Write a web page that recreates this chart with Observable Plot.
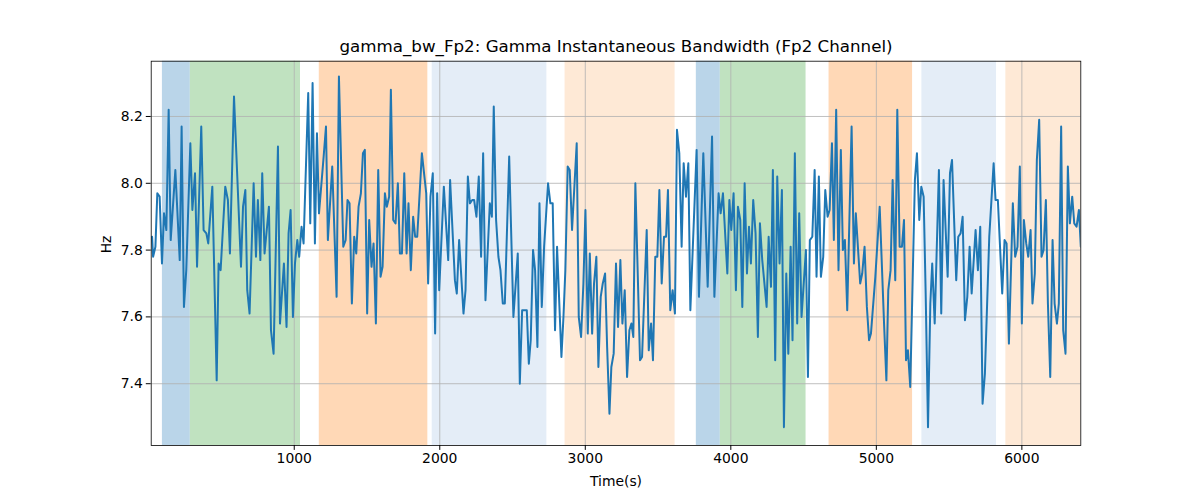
<!DOCTYPE html>
<html>
<head>
<meta charset="utf-8">
<script src="https://cdn.jsdelivr.net/npm/d3@7"></script>
<script src="https://cdn.jsdelivr.net/npm/@observablehq/plot@0.6"></script>
<style>
  html, body { margin: 0; padding: 0; background: white; }
</style>
</head>
<body>
<div id="chart"></div>
<script>
const titleText = "gamma_bw_Fp2: Gamma Instantaneous Bandwidth (Fp2 Channel)";
const xLabel = "Time(s)";
const yLabel = "Hz";
const xTicks = [1000, 2000, 3000, 4000, 5000, 6000];
const yTicks = [7.4, 7.6, 7.8, 8.0, 8.2];
const xDomain = [17, 6405];
const yDomain = [7.215, 8.3655];

const spanStart = [94, 286, 1172, 1948, 2861, 3763, 3928, 4675, 5313, 5890];
const spanEnd   = [286, 1043, 1918, 2736, 3617, 3928, 4517, 5249, 5826, 6405];
const spanKind  = ["A", "B", "C", "D", "E", "A", "B", "C", "D", "E"];
const kindOrder = ["A", "B", "C", "D", "E"];
const kindColors = ["#bad5e9", "#c0e2c0", "#ffd8b6", "#e4edf7", "#fee9d6"];

const times = [
23,30,46,59,75,91,105,121,137,151,183,213,226,242,258,286,300,318,332,361,377,396,409,437,467,480,494,526,544,558,586,634,648,664,677,693,721,737,750,767,780,796,
826,840,858,888,902,929,947,961,975,991,1005,1021,1034,1050,1064,1096,1110,1126,1142,1156,1170,1202,1218,1231,1261,1291,1307,1337,1353,1366,1380,1396,1412,1426,1442,1458,1472,1485,1501,1515,1531,1545,1561,1577,1593,1607,1623,1636,1652,
1664,1680,1696,1712,1726,1740,1756,1772,1785,1801,1817,1831,1845,1877,1907,1920,1936,1952,1968,1982,1996,2028,2058,2071,2104,2117,2133,2163,2177,2193,2207,2223,2236,2252,2268,2284,2298,2314,2344,2358,2371,2387,2403,2417,2433,2447,
2477,2506,2536,2550,2566,2582,2598,2612,2625,2641,2655,2671,2685,2701,2717,2744,2760,2776,2792,2806,2836,2850,2863,2879,2893,2909,2941,2955,2971,2987,3001,3017,3031,3047,3060,3076,3090,3106,3120,3136,3150,3166,3179,3195,3211,3225,3241,3255,3271,
3287,3303,3317,3330,3344,3376,3390,3422,3436,3452,3465,3481,3495,3509,3525,3541,3555,3568,3584,3600,3616,3630,3646,3662,3676,3692,3708,3722,3765,3781,3811,3841,3871,3887,3916,3930,3946,3976,3990,4003,4019,4035,4049,4065,4079,4095,
4111,4125,4138,4154,4170,4186,4200,4216,4246,4260,4276,4289,4305,4319,4335,4351,4365,4381,4395,4411,4424,4440,4456,4470,4486,4516,4530,4543,4560,4576,4589,4605,4619,4635,4649,4665,4679,4695,4708,4724,4740,4756,4770,4784,4800,4830,4846,4859,4889,4903,4919,4935,
4950,4963,4993,5023,5053,5069,5082,5098,5112,5130,5144,5160,5176,5190,5204,5217,5233,5265,5279,5295,5309,5325,5339,5355,5371,5384,5401,5430,5446,5462,5490,5506,5520,5549,5563,5579,5593,5609,5625,5641,5655,
5682,5698,5714,5730,5746,5776,5806,5819,5835,5865,5881,5895,5911,5938,5954,5970,5986,6000,6014,6030,6044,6060,6073,6089,6103,6119,6135,6149,6165,6179,6195,6211,6225,6241,6254,6270,6284,6300,6316,6330,6346,6360,6376,6392,6405
];
const hz = [
7.84,7.78,7.81,7.97,7.96,7.76,7.91,7.86,8.22,7.83,8.04,7.77,8.17,7.63,7.74,8.12,7.92,8.03,7.75,8.17,7.86,7.85,7.82,7.99,7.41,7.76,7.74,7.99,7.95,7.79,8.26,7.75,7.93,7.98,7.68,7.61,8.00,7.78,7.95,7.77,8.03,7.79,
7.93,7.56,7.49,8.11,7.58,7.76,7.57,7.85,7.92,7.60,7.76,7.83,7.78,7.87,7.82,8.27,7.88,8.30,7.82,8.15,7.91,8.08,8.17,7.83,8.05,7.66,8.32,7.81,7.83,7.95,7.94,7.64,7.84,7.79,7.93,7.97,8.09,8.10,7.61,7.89,7.75,7.82,7.58,8.04,7.72,7.75,7.97,7.93,7.96,
8.28,7.89,7.88,8.00,7.79,7.79,8.03,7.79,7.94,7.74,7.90,7.84,7.84,8.09,7.97,7.70,7.96,8.03,7.55,7.97,7.68,7.99,7.77,8.01,7.71,7.67,7.83,7.61,7.68,8.02,7.94,7.95,7.95,7.90,8.02,7.78,8.09,7.65,7.94,7.90,8.23,7.89,7.78,7.74,7.64,7.64,
8.08,7.60,7.79,7.40,7.62,7.62,7.62,7.46,7.53,7.80,7.74,7.51,7.94,7.63,7.81,8.00,7.94,7.94,7.56,7.81,7.48,7.60,7.74,8.05,8.04,7.86,8.12,7.60,7.54,7.70,7.92,7.55,7.79,7.55,7.70,7.78,7.45,7.66,7.70,7.73,7.51,7.31,7.45,7.49,7.76,7.57,7.77,7.58,7.68,
7.42,7.56,7.58,7.54,8.00,7.47,7.48,7.86,7.50,7.58,7.47,7.78,7.78,7.98,7.70,7.84,7.84,7.98,7.62,7.68,7.61,8.16,8.09,7.81,8.06,7.96,8.06,7.62,8.10,7.66,8.09,7.69,8.14,7.66,7.97,7.91,7.97,7.73,7.95,7.86,7.97,7.68,7.93,7.89,7.63,8.00,
7.73,7.87,7.76,7.95,7.85,7.54,7.88,7.77,7.63,7.84,7.69,8.04,7.47,8.02,7.76,7.98,7.27,7.73,7.49,7.81,7.53,8.09,7.58,7.91,7.60,7.80,7.42,7.83,7.84,8.04,7.72,8.02,7.72,7.78,7.98,7.90,7.92,8.12,7.83,8.22,7.74,8.10,7.80,7.83,7.62,8.17,7.76,7.91,7.70,7.73,7.81,7.63,
7.53,7.55,7.72,7.93,7.58,7.41,7.68,7.74,8.01,7.71,8.22,7.81,7.81,7.89,7.47,7.50,7.39,8.01,8.09,7.89,7.99,7.96,7.67,7.27,7.64,7.76,7.58,8.04,7.61,8.01,7.72,8.03,8.07,7.71,7.84,7.85,7.90,7.59,7.66,7.81,7.67,
7.86,7.74,7.87,7.34,7.43,7.84,8.06,7.95,7.95,7.67,7.83,7.82,7.52,7.94,7.78,7.81,8.05,7.58,7.89,7.82,7.78,7.86,7.64,7.73,8.07,8.19,7.78,7.80,7.95,7.64,7.42,7.83,7.64,7.58,7.64,8.17,7.56,7.49,8.05,7.88,7.96,7.88,7.87,7.92,7.81
];

const data = times.map((t, i) => ({t, v: hz[i]}));
const spans = spanStart.map((s, i) => ({s, e: spanEnd[i], k: spanKind[i]}));

const gridStyle = {stroke: "#b0b0b0", strokeOpacity: 1, strokeWidth: 0.8};

const chart = Plot.plot({
  width: 1200,
  height: 500,
  marginLeft: 150.7,
  marginRight: 119.7,
  marginTop: 60.7,
  marginBottom: 55,
  style: {fontFamily: "DejaVu Sans", fontSize: "13.9px", background: "white", color: "black", overflow: "visible"},
  x: {domain: xDomain, label: null},
  y: {domain: yDomain, label: null},
  color: {domain: kindOrder, range: kindColors},
  marks: [
    Plot.rect(spans, {x1: "s", x2: "e", y1: yDomain[0], y2: yDomain[1], fill: "k"}),
    Plot.gridX(xTicks, gridStyle),
    Plot.gridY(yTicks, gridStyle),
    Plot.line(data, {x: "t", y: "v", stroke: "#1f77b4", strokeWidth: 2, clip: true}),
    Plot.frame({stroke: "black", strokeWidth: 0.8}),
    Plot.axisX(xTicks, {tickSize: 4.9, tickPadding: 2.5, tickFormat: d => String(d), label: null}),
    Plot.axisY(yTicks, {tickSize: 4.9, tickPadding: 3.5, tickFormat: d => d.toFixed(1), label: null}),
    Plot.text([titleText], {frameAnchor: "top", lineAnchor: "middle", dy: -14.7, fontSize: 16.7}),
    Plot.text([xLabel], {frameAnchor: "bottom", lineAnchor: "middle", dy: 36, fontSize: 13.9}),
    Plot.text([yLabel], {frameAnchor: "left", lineAnchor: "middle", dx: -44.7, rotate: -90, fontSize: 13.9})
  ]
});
document.getElementById("chart").appendChild(chart);
</script>
</body>
</html>
